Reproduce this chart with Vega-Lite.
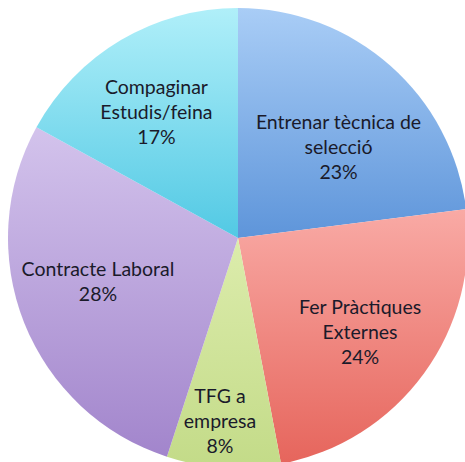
{
  "$schema": "https://vega.github.io/schema/vega-lite/v6.json",
  "width": 465,
  "height": 462,
  "autosize": {"type": "fit", "contains": "padding"},
  "padding": {"left": 11, "top": 14, "right": 0, "bottom": 0},
  "background": "white",
  "view": {"stroke": null},
  "data": {
    "values": [
      {"k": 1, "cat": "Entrenar tècnica de selecció", "label": "Entrenar tècnica de\nselecció\n23%", "v": 23},
      {"k": 2, "cat": "Fer Pràctiques Externes", "label": "Fer Pràctiques\nExternes\n24%", "v": 24},
      {"k": 3, "cat": "TFG a empresa", "label": "TFG a\nempresa\n8%", "v": 8},
      {"k": 4, "cat": "Contracte Laboral", "label": "Contracte Laboral\n28%", "v": 28},
      {"k": 5, "cat": "Compaginar Estudis/feina", "label": "Compaginar\nEstudis/feina\n17%", "v": 17}
    ]
  },
  "encoding": {
    "theta": {"field": "v", "type": "quantitative", "stack": true},
    "order": {"field": "k", "type": "quantitative"}
  },
  "layer": [
    {
      "mark": {"type": "arc", "outerRadius": 230},
      "encoding": {
        "color": {
          "condition": [
            {"test": "datum.k === 1", "value": {"gradient": "linear", "x1": 0, "y1": 0, "x2": 0, "y2": 1, "stops": [{"offset": 0, "color": "#a9cdf6"}, {"offset": 1, "color": "#5e95da"}]}},
            {"test": "datum.k === 2", "value": {"gradient": "linear", "x1": 0, "y1": 0, "x2": 0, "y2": 1, "stops": [{"offset": 0, "color": "#f9aaa5"}, {"offset": 1, "color": "#e6655c"}]}},
            {"test": "datum.k === 3", "value": {"gradient": "linear", "x1": 0, "y1": 0, "x2": 0, "y2": 1, "stops": [{"offset": 0, "color": "#dcecac"}, {"offset": 1, "color": "#c3db88"}]}},
            {"test": "datum.k === 4", "value": {"gradient": "linear", "x1": 0, "y1": 0, "x2": 0, "y2": 1, "stops": [{"offset": 0, "color": "#d3c3ec"}, {"offset": 1, "color": "#a285cc"}]}}
          ],
          "value": {"gradient": "linear", "x1": 0, "y1": 0, "x2": 0, "y2": 1, "stops": [{"offset": 0, "color": "#b0eff9"}, {"offset": 1, "color": "#52c9e4"}]}
        }
      }
    },
    {
      "mark": {"type": "text", "font": "Lato", "fontSize": 19.5, "lineBreak": "\n", "lineHeight": 25, "color": "#1a1a2a", "align": "center", "baseline": "middle", "radius": 152, "dx": 0, "dy": -1},
      "encoding": {"text": {"condition": {"test": "datum.k === 1", "field": "label"}, "value": ""}}
    },
    {
      "mark": {"type": "text", "font": "Lato", "fontSize": 19.5, "lineBreak": "\n", "lineHeight": 25, "color": "#1a1a2a", "align": "center", "baseline": "middle", "radius": 141, "dx": 8, "dy": -13},
      "encoding": {"text": {"condition": {"test": "datum.k === 2", "field": "label"}, "value": ""}}
    },
    {
      "mark": {"type": "text", "font": "Lato", "fontSize": 19.5, "lineBreak": "\n", "lineHeight": 25, "color": "#1a1a2a", "align": "center", "baseline": "middle", "radius": 159, "dx": -8, "dy": 0},
      "encoding": {"text": {"condition": {"test": "datum.k === 3", "field": "label"}, "value": ""}}
    },
    {
      "mark": {"type": "text", "font": "Lato", "fontSize": 19.5, "lineBreak": "\n", "lineHeight": 25, "color": "#1a1a2a", "align": "center", "baseline": "middle", "radius": 142, "dx": -8, "dy": -20},
      "encoding": {"text": {"condition": {"test": "datum.k === 4", "field": "label"}, "value": ""}}
    },
    {
      "mark": {"type": "text", "font": "Lato", "fontSize": 19.5, "lineBreak": "\n", "lineHeight": 25, "color": "#1a1a2a", "align": "center", "baseline": "middle", "radius": 172, "dx": 6, "dy": -2},
      "encoding": {"text": {"condition": {"test": "datum.k === 5", "field": "label"}, "value": ""}}
    }
  ]
}
